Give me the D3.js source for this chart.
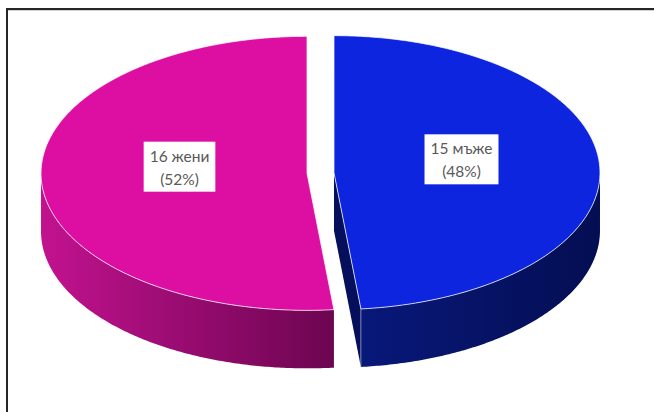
<!DOCTYPE html>
<html>
<head>
<meta charset="utf-8">
<script src="https://cdn.jsdelivr.net/npm/d3@7"></script>
<style>
  html, body { margin: 0; padding: 0; background: #ffffff; }
  svg { display: block; }
</style>
</head>
<body>
<svg id="chart" width="654" height="412"></svg>
<script>
// ---- data ----
const categories = ["мъже", "жени"];
const values = [15, 16];
const topColors = ["#0E25E0", "#DC0FA2"];
const sideColorsLeft = ["#08187A", "#C2128F"];
const sideColorsRight = ["#040E52", "#6C0550"];
const innerFaceColors = ["#050F5C", "#6C0550"];

// ---- layout ----
const W = 654, H = 412;
const cx = 320.5, cy = 173, rx = 266, ry = 137, depth = 58, explode = 13.5;

const svg = d3.select("#chart");
const defs = svg.append("defs");

// frame
svg.append("line").attr("x1", 7).attr("x2", W + 5).attr("y1", 10.5).attr("y2", 10.5)
  .attr("stroke", "#d0d0d0").attr("stroke-width", 1);
svg.append("rect").attr("x", 7).attr("y", 9).attr("width", W + 20).attr("height", H + 20)
  .attr("fill", "none").attr("stroke", "#262626").attr("stroke-width", 2);

const total = d3.sum(values);
const pie = d3.pie().sort(null).value(d => d.value).startAngle(0).endAngle(2 * Math.PI);
const data = categories.map((c, i) => ({ cat: c, value: values[i], i }));
const arcs = pie(data);

// gradients for walls
arcs.forEach((a, i) => {
  const g = defs.append("linearGradient").attr("id", "side" + i)
    .attr("x1", "0%").attr("x2", "100%").attr("y1", "0%").attr("y2", "0%");
  g.append("stop").attr("offset", "0%").attr("stop-color", sideColorsLeft[i]);
  g.append("stop").attr("offset", "100%").attr("stop-color", sideColorsRight[i]);
});

const line = d3.line();
function center(a) {
  const mid = (a.startAngle + a.endAngle) / 2;
  return [cx + explode * Math.sin(mid), cy - explode * Math.cos(mid) * (ry / rx)];
}
function pt(c, ang, dy = 0) {
  return [c[0] + rx * Math.sin(ang), c[1] - ry * Math.cos(ang) + dy];
}
function arcPts(c, a0, a1, dy = 0) {
  const n = Math.max(2, Math.ceil(Math.abs(a1 - a0) / 0.01));
  return d3.range(n + 1).map(k => pt(c, a0 + (a1 - a0) * k / n, dy));
}

const gSides = svg.append("g");
const gTops = svg.append("g");
const gLabels = svg.append("g");

// inner radial faces (visible ones only)
arcs.forEach((a, i) => {
  const c = center(a);
  [[a.startAngle, +1], [a.endAngle, -1]].forEach(([ang, sign]) => {
    // outward normal in plane (x, toward viewer)
    const n = sign < 0 ? [Math.cos(ang), Math.sin(ang)] : [-Math.cos(ang), -Math.sin(ang)];
    if (n[1] > 0.01) {
      const p = pt(c, ang);
      const pts = [c, p, [p[0], p[1] + depth], [c[0], c[1] + depth]];
      gSides.append("path").attr("d", line(pts) + "Z").attr("fill", innerFaceColors[i]);
    }
  });
});

// outer walls (front half only)
arcs.forEach((a, i) => {
  const c = center(a);
  const s = Math.max(a.startAngle, Math.PI / 2);
  const e = Math.min(a.endAngle, 3 * Math.PI / 2);
  if (e <= s) return;
  const top = arcPts(c, s, e);
  const bot = arcPts(c, e, s, depth);
  gSides.append("path").attr("d", line(top.concat(bot)) + "Z")
    .attr("fill", "url(#side" + i + ")");
  if (a.endAngle < 3 * Math.PI / 2 && a.endAngle > Math.PI / 2) {
    const p = pt(c, a.endAngle);
    gSides.append("line").attr("x1", p[0]).attr("y1", p[1]).attr("x2", p[0]).attr("y2", p[1] + depth)
      .attr("stroke", "rgba(255,255,255,0.55)").attr("stroke-width", 0.8);
  }
});

// top faces
arcs.forEach((a, i) => {
  const c = center(a);
  const pts = [c].concat(arcPts(c, a.startAngle, a.endAngle));
  gTops.append("path").attr("d", line(pts) + "Z")
    .attr("fill", topColors[i])
    .attr("stroke", "rgba(255,255,255,0.75)").attr("stroke-width", 1)
    .attr("stroke-linejoin", "round");
});

// labels
arcs.forEach((a, i) => {
  const c = center(a);
  const mid = (a.startAngle + a.endAngle) / 2;
  const lx = c[0] + 0.48 * rx * Math.sin(mid);
  const ly = c[1] - 0.48 * ry * Math.cos(mid) - 11;
  const pct = Math.round(a.data.value / total * 100);
  const g = gLabels.append("g");
  const rect = g.append("rect").attr("fill", "#ffffff");
  const t = g.append("text").attr("text-anchor", "middle")
    .attr("font-family", "Lato, 'Open Sans', sans-serif").attr("font-size", 15.5)
    .attr("fill", "#595959");
  t.append("tspan").attr("x", lx).attr("y", ly - 4).text(a.data.value + " " + a.data.cat);
  t.append("tspan").attr("x", lx).attr("y", ly + 19).text("(" + pct + "%)");
  const bb = t.node().getBBox();
  rect.attr("x", bb.x - 6).attr("y", bb.y - 5).attr("width", bb.width + 12).attr("height", bb.height + 9);
});
</script>
</body>
</html>
